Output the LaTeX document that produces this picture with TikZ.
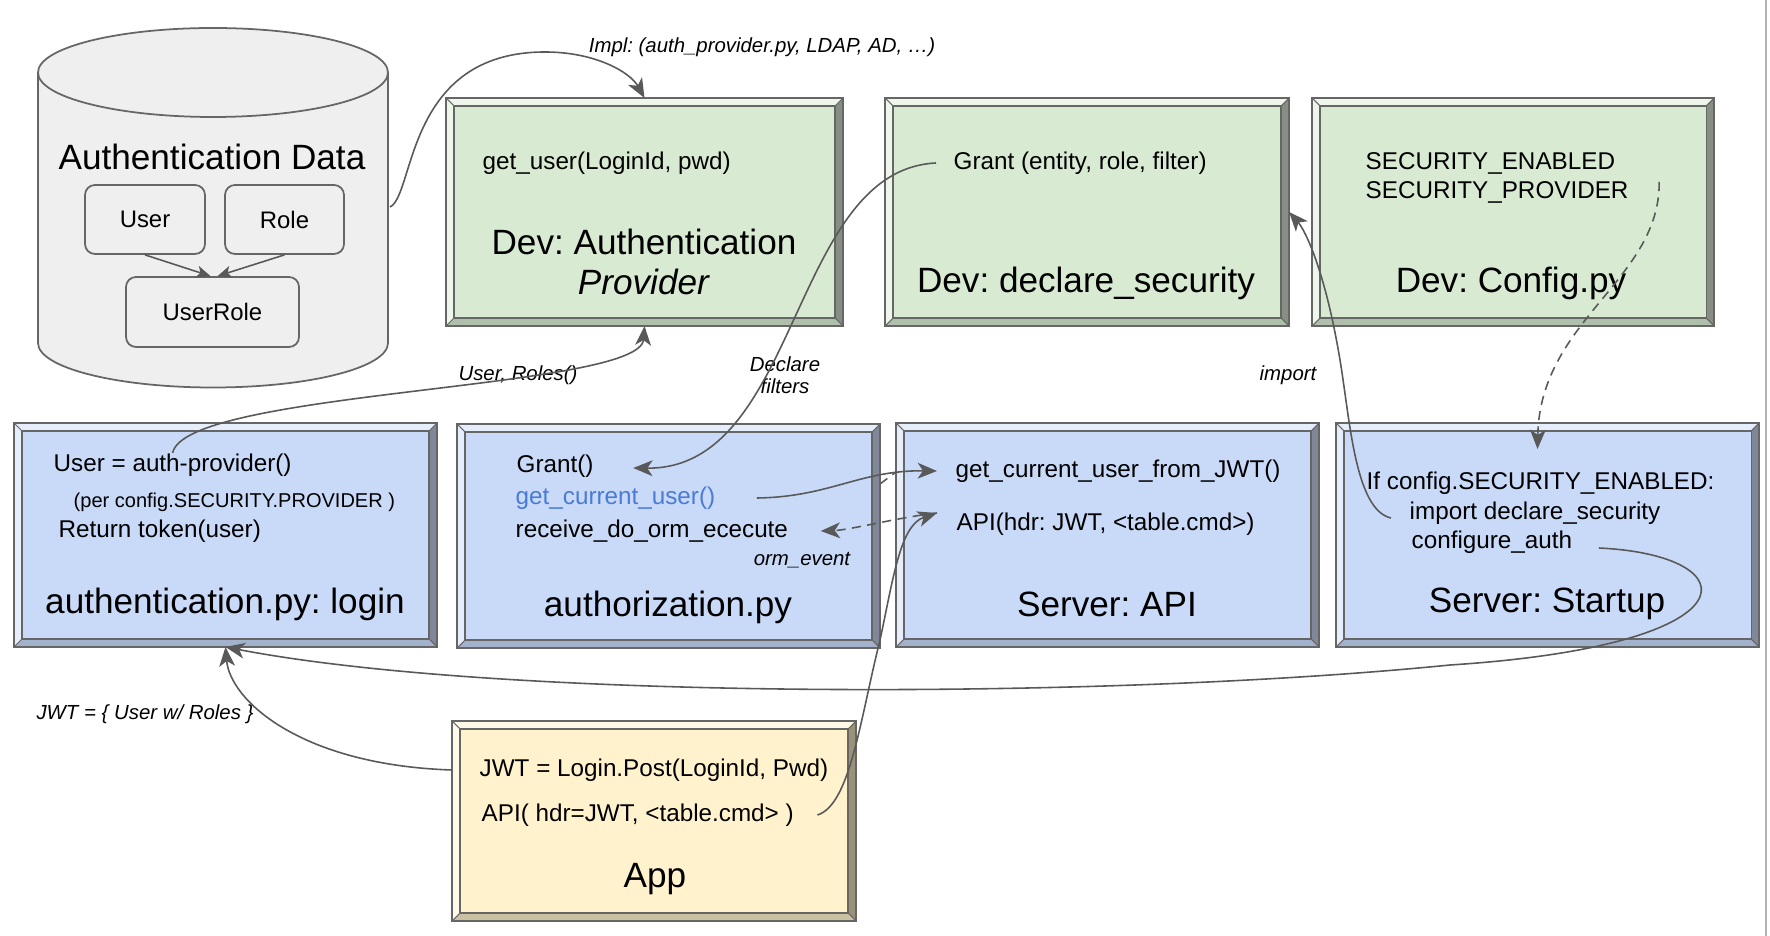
\documentclass[tikz,border=0pt]{standalone}
\usepackage{fontspec}
\setmainfont{Liberation Sans}
\usetikzlibrary{calc,arrows.meta}

\definecolor{edgegray}{HTML}{666666}
\definecolor{wiregray}{HTML}{595959}
\definecolor{dbface}{HTML}{EFEFEF}
\definecolor{linkblue}{HTML}{4A7BD5}
\definecolor{greenface}{HTML}{D9EAD3}
\definecolor{greenlite}{HTML}{EEF5EB}
\definecolor{greendark}{HTML}{878F84}
\definecolor{greenmid}{HTML}{B0BFAB}
\definecolor{blueface}{HTML}{C9DAF8}
\definecolor{bluelite}{HTML}{E6EEFC}
\definecolor{bluedark}{HTML}{7F8798}
\definecolor{bluemid}{HTML}{A3B2CC}
\definecolor{yellowface}{HTML}{FFF2CC}
\definecolor{yellowlite}{HTML}{FFF9E8}
\definecolor{yellowdark}{HTML}{999279}
\definecolor{yellowmid}{HTML}{CCC2A3}

% bevelled box: name, left, top, right, bottom, colour family
\newcommand{\bevelbox}[6]{
\pgfmathsetmacro{\boxL}{#2}
\pgfmathsetmacro{\boxT}{#3}
\pgfmathsetmacro{\boxR}{#4}
\pgfmathsetmacro{\boxB}{#5}
\pgfmathsetmacro{\inL}{#2+0.08}
\pgfmathsetmacro{\inT}{#3+0.08}
\pgfmathsetmacro{\inR}{#4-0.08}
\pgfmathsetmacro{\inB}{#5-0.08}
\pgfmathsetmacro{\boxW}{#4-#2}
\pgfmathsetmacro{\boxH}{#5-#3}
\pgfmathsetmacro{\boxX}{(#2+#4)/2}
\pgfmathsetmacro{\boxY}{(#3+#5)/2}
  \node[fill=#6face, minimum width=\boxW cm, minimum height=\boxH cm, inner sep=0, outer sep=0] (#1) at (\boxX,\boxY) {};
  \fill[#6lite] (\boxL,\boxT) -- (\boxR,\boxT) -- (\inR,\inT) -- (\inL,\inT) -- (\inL,\inB) -- (\boxL,\boxB) -- cycle;
  \fill[#6dark] (\boxR,\boxT) -- (\boxR,\boxB) -- (\inR,\inB) -- (\inR,\inT) -- cycle;
  \fill[#6mid] (\boxL,\boxB) -- (\boxR,\boxB) -- (\inR,\inB) -- (\inL,\inB) -- cycle;
  \draw[edgegray, line width=0.3pt] (\inL,\inT) rectangle (\inR,\inB);
  \draw[edgegray, line width=0.3pt] (\boxL,\boxT) -- (\inL,\inT) (\boxR,\boxT) -- (\inR,\inT)
     (\boxL,\boxB) -- (\inL,\inB) (\boxR,\boxB) -- (\inR,\inB);
  \draw[edgegray, line width=0.6pt] (\boxL,\boxT) rectangle (\boxR,\boxB);
}

\tikzset{
  titletext/.style={font=\fontsize{10}{11.4}\selectfont, inner sep=0, align=center},
  codetext/.style={font=\fontsize{6.9}{8.3}\selectfont, anchor=west, inner sep=0},
  smalltext/.style={font=\fontsize{5.7}{7}\selectfont, anchor=west, inner sep=0},
  notetext/.style={font=\itshape\fontsize{5.8}{6.3}\selectfont, inner sep=0, align=center},
  dbtable/.style={draw=edgegray, line width=0.5pt, fill=dbface, rounded corners=0.1cm,
    font=\fontsize{6.8}{8}\selectfont, inner sep=0},
  wire/.style={draw=wiregray, line width=0.45pt, -{Stealth[length=5.5pt,width=4.5pt,inset=1.5pt]}},
  dashwire/.style={wire, dash pattern=on 2.6pt off 1.8pt},
  shortwire/.style={draw=wiregray, line width=0.45pt, -{Stealth[length=4pt,width=3.4pt,inset=1pt]}}
}

\begin{document}
\frenchspacing
\begin{tikzpicture}[x=1cm,y=-1cm]
\fill[white] (0,0) rectangle (17.70,9.36);
\useasboundingbox (0,0) rectangle (17.70,9.36);
\draw[edgegray!50, line width=0.4pt] (17.66,0) -- (17.66,9.36);

% authentication data store
\fill[dbface] (0.38,0.725) rectangle (3.88,3.43);
\fill[dbface] (2.13,3.43) ellipse [x radius=1.75, y radius=0.445];
\begin{scope}
  \clip (0.30,3.43) rectangle (3.96,3.95);
  \draw[edgegray, line width=0.5pt] (2.13,3.43) ellipse [x radius=1.75, y radius=0.445];
\end{scope}
\draw[edgegray, line width=0.5pt] (0.38,0.725) -- (0.38,3.43) (3.88,0.725) -- (3.88,3.43);
\draw[edgegray, line width=0.5pt, fill=dbface] (2.13,0.725) ellipse [x radius=1.75, y radius=0.445];
\coordinate (dbside) at (3.90,2.07);
\node[titletext] (dbtitle) at (2.12,1.57) {Authentication Data};
\node[dbtable, minimum width=1.20cm, minimum height=0.69cm] (user) at (1.45,2.195) {User};
\node[dbtable, minimum width=1.19cm, minimum height=0.69cm] (role) at (2.845,2.195) {Role};
\node[dbtable, minimum width=1.73cm, minimum height=0.70cm] (userrole) at (2.125,3.12) {UserRole};
\draw[shortwire] (user.south) -- ([xshift=-0.02cm]userrole.north);
\draw[shortwire] (role.south) -- ([xshift=0.05cm]userrole.north);

% developer boxes
\bevelbox{ap}{4.46}{0.98}{8.43}{3.26}{green}
\bevelbox{ds}{8.85}{0.98}{12.89}{3.26}{green}
\bevelbox{cf}{13.12}{0.98}{17.14}{3.26}{green}
\node[codetext] (getuser) at (4.82,1.63) {get\_user(LoginId, pwd)};
\node[titletext] (aptitle) at (6.44,2.62) {Dev: Authentication\\\textit{Provider}};
\node[codetext] (grantent) at (9.53,1.63) {Grant (entity, role, filter)};
\node[titletext] (dstitle) at (10.86,2.83) {Dev: declare\_security};
\node[codetext] (secen) at (13.65,1.63) {SECURITY\_ENABLED};
\node[codetext] (secpr) at (13.65,1.92) {SECURITY\_PROVIDER};
\node[titletext] (cftitle) at (15.11,2.83) {Dev: Config.py};

% server boxes
\bevelbox{lg}{0.14}{4.23}{4.37}{6.47}{blue}
\bevelbox{az}{4.57}{4.24}{8.80}{6.48}{blue}
\bevelbox{sa}{8.96}{4.23}{13.19}{6.47}{blue}
\bevelbox{ss}{13.36}{4.23}{17.59}{6.47}{blue}
\node[codetext] (usr) at (0.53,4.65) {User = auth-provider()};
\node[smalltext] (perconf) at (0.73,5.02) {(per config.SECURITY.PROVIDER )};
\node[codetext] (rettok) at (0.58,5.31) {Return token(user)};
\node[titletext] (lgtitle) at (2.25,6.04) {authentication.py: login};
\node[codetext] (grantfn) at (5.16,4.66) {Grant()};
\node[codetext, text=linkblue] (gcu) at (5.15,4.98) {get\_current\_user()};
\node[codetext] (receive) at (5.15,5.31) {receive\_do\_orm\_ececute};
\node[notetext] (ormevent) at (8.02,5.60) {orm\_event};
\node[titletext] (aztitle) at (6.68,6.07) {authorization.py};
\node[codetext] (gcujwt) at (9.55,4.71) {get\_current\_user\_from\_JWT()};
\node[codetext] (apihdr) at (9.56,5.24) {API(hdr: JWT, <table.cmd>)};
\node[titletext] (satitle) at (11.07,6.04) {Server: API};
\node[codetext] (ifconf) at (13.66,4.83) {If config.SECURITY\_ENABLED:};
\node[codetext] (impds) at (14.09,5.13) {import declare\_security};
\node[codetext] (cfgauth) at (14.11,5.42) {configure\_auth};
\node[titletext] (sstitle) at (15.47,6.04) {Server: Startup};

% client
\bevelbox{app}{4.52}{7.21}{8.56}{9.21}{yellow}
\node[codetext] (jwt) at (4.79,7.70) {JWT = Login.Post(LoginId, Pwd)};
\node[codetext] (appapi) at (4.81,8.15) {API( hdr=JWT, <table.cmd> )};
\node[titletext] (apptitle) at (6.55,8.79) {App};

% connector labels
\node[notetext] (impl) at (7.62,0.47) {Impl: (auth\_provider.py,  LDAP,  AD, …)};
\node[notetext] (userroles) at (5.18,3.75) {User, Roles()};
\node[notetext] (declfilt) at (7.85,3.75) {Declare\\filters};
\node[notetext] (importlbl) at (12.88,3.75) {import};
\node[notetext] (jwtlbl) at (1.45,7.14) {JWT = \{ User w/ Roles \}};

% connectors
\draw[wire] (dbside) .. controls (4.15,1.95) and (4.05,0.52) .. (5.45,0.52)
   .. controls (5.95,0.52) and (6.30,0.72) .. (ap.north);
\draw[wire] (usr.north) .. controls (1.85,3.90) and (6.40,3.90) .. (ap.south);
\draw[wire] ($(grantent.west)+(-0.17,0)$) .. controls (7.90,1.70) and (8.00,4.70) .. ($(grantfn.east)+(0.39,0.02)$);
\draw[wire] ($(gcu.east)+(0.41,0)$) .. controls (8.30,4.97) and (8.60,4.70) .. ($(gcujwt.west)+(-0.18,0)$);
\draw[dashwire] ($(apihdr.west)+(-0.19,-0.11)$) .. controls (9.00,5.17) and (8.50,5.30) .. ($(receive.east)+(0.32,0)$);
\coordinate (stubA) at (8.80,4.84);
\coordinate (stubB) at (8.96,4.72);
\draw[draw=wiregray, line width=0.45pt, dash pattern=on 2.6pt off 1.8pt] (stubA) -- (stubB);
\draw[wire] ($(appapi.east)+(0.23,0)$) .. controls (8.50,8.05) and (8.60,7.20) .. (8.80,6.40)
   .. controls (8.93,5.80) and (9.00,5.25) .. ($(apihdr.west)+(-0.19,-0.11)$);
\draw[wire] ($(cfgauth.east)+(0.26,0.06)$) .. controls (17.50,5.55) and (17.60,6.45) .. (14.50,6.65)
   .. controls (11.00,7.00) and (5.00,7.00) .. (lg.south);
\draw[wire] (app.west |- jwt.west) .. controls (3.00,7.65) and (2.30,7.00) .. (lg.south);
\draw[wire] ($(impds.west)+(-0.18,0.05)$) .. controls (13.55,5.10) and (13.50,4.20) .. (13.40,3.60)
   .. controls (13.25,2.70) and (13.05,2.30) .. (ds.east);
\draw[dashwire] ($(secpr.east)+(0.30,-0.10)$) .. controls (16.60,2.80) and (15.40,3.20) .. ($(ss.north)+(-0.10,0.26)$);
\end{tikzpicture}
\end{document}
